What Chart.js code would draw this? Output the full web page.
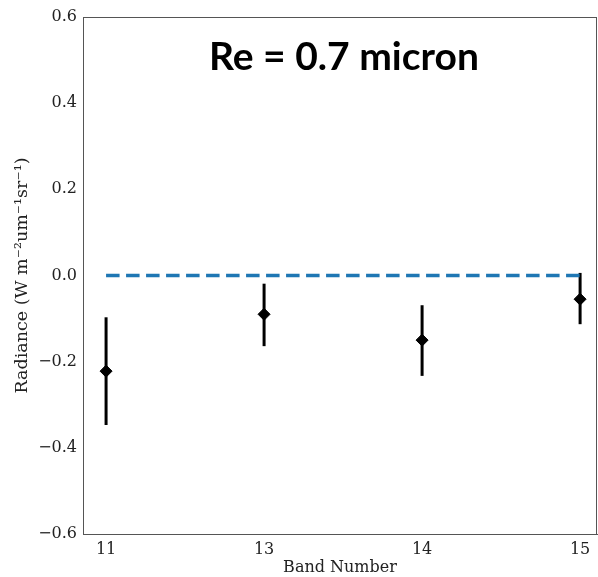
<!DOCTYPE html>
<html>
<head>
<meta charset="utf-8">
<script src="https://cdn.jsdelivr.net/npm/chart.js@4"></script>
<style>
  html, body { margin: 0; padding: 0; background: #fff; }
  #wrap { width: 598px; height: 577px; }
</style>
</head>
<body>
<div id="wrap"><canvas id="mychart" width="598" height="577"></canvas></div>
<script>
// band numbers shown on the x axis (evenly spaced, like categories)
const bands = ['11', '13', '14', '15']
// radiance difference and error bar ends
const radiance = [-0.222, -0.090, -0.150, -0.055]
const errLow = [-0.347, -0.164, -0.233, -0.113]
const errHigh = [-0.097, -0.019, -0.069, 0.006]
const zeroLine = [0, 0, 0, 0]
const yTicks = [-0.6, -0.4, -0.2, 0.0, 0.2, 0.4, 0.6]

const serif = "'DejaVu Serif', serif"

// error bars + box + title
const extras = {
    id: 'extras',
    beforeDatasetsDraw(chart) {
        const ctx = chart.ctx
        const x = chart.scales.x, y = chart.scales.y
        ctx.save()
        ctx.strokeStyle = '#000'
        ctx.lineWidth = 3
        bands.forEach((b, i) => {
            const px = x.getPixelForValue(i)
            ctx.beginPath()
            ctx.moveTo(px, y.getPixelForValue(errLow[i]))
            ctx.lineTo(px, y.getPixelForValue(errHigh[i]))
            ctx.stroke()
        })
        ctx.restore()
    },
    afterDraw(chart) {
        const ctx = chart.ctx
        const a = chart.chartArea
        ctx.save()
        ctx.strokeStyle = '#555'
        ctx.lineWidth = 1
        ctx.strokeRect(a.left + 0.5, a.top + 0.5, a.right - a.left - 1, a.bottom - a.top)
        ctx.fillStyle = '#000'
        ctx.font = "bold 39px Lato, sans-serif"
        ctx.textAlign = 'center'
        ctx.textBaseline = 'alphabetic'
        ctx.fillText('Re = 0.7 micron', 344, 70)
        ctx.restore()
    }
}

const canvas = document.getElementById('mychart')
const ctx = canvas.getContext('2d')
const chart = new Chart(ctx, {
    type: 'scatter',
    data: {
        datasets: [
            {
                label: 'radiance',
                data: radiance.map((v, i) => ({ x: i, y: v })),
                pointStyle: 'rectRot',
                pointRadius: 6,
                backgroundColor: '#000',
                borderColor: '#000',
                borderWidth: 1,
                showLine: false
            },
            {
                label: 'zero',
                data: zeroLine.map((v, i) => ({ x: i, y: v })),
                showLine: true,
                borderColor: '#1f77b4',
                borderWidth: 3.5,
                borderDash: [13.5, 6.5],
                pointRadius: 0,
                order: 2
            }
        ]
    },
    options: {
        responsive: false,
        animation: false,
        layout: { autoPadding: false, padding: { top: 17, right: 1, left: 0, bottom: 0 } },
        plugins: {
            legend: { display: false },
            tooltip: { enabled: false }
        },
        scales: {
            x: {
                type: 'linear',
                min: -0.146,
                max: 3.107,
                afterBuildTicks: s => { s.ticks = bands.map((b, i) => ({ value: i })) },
                afterFit: s => { s.height = 43; s.paddingLeft = 0; s.paddingRight = 0 },
                grid: { display: false, drawTicks: true, tickLength: 4, tickColor: '#555' },
                border: { color: '#555' },
                ticks: {
                    color: '#222',
                    font: { family: serif, size: 16 },
                    padding: 2,
                    maxRotation: 0,
                    callback: (v, i) => bands[i]
                },
                title: {
                    display: true,
                    text: 'Band Number',
                    color: '#222',
                    font: { family: serif, size: 16 },
                    padding: { top: 0, bottom: 0 }
                }
            },
            y: {
                min: -0.6,
                max: 0.6,
                afterBuildTicks: s => { s.ticks = yTicks.map(v => ({ value: v })) },
                afterFit: s => { s.width = 83; s.paddingTop = 0; s.paddingBottom = 0 },
                grid: { display: false, drawTicks: true, tickLength: 4, tickColor: '#555' },
                border: { color: '#555' },
                ticks: {
                    color: '#222',
                    font: { family: serif, size: 16 },
                    padding: 2,
                    callback: v => (v < 0 ? '\u2212' : '') + Math.abs(v).toFixed(1)
                },
                title: {
                    display: true,
                    text: 'Radiance (W m\u207B\u00B2um\u207B\u00B9sr\u207B\u00B9)',
                    color: '#222',
                    font: { family: serif, size: 17.5 },
                    padding: { top: 12, bottom: 4 }
                }
            }
        }
    },
    plugins: [extras]
})
</script>
</body>
</html>
